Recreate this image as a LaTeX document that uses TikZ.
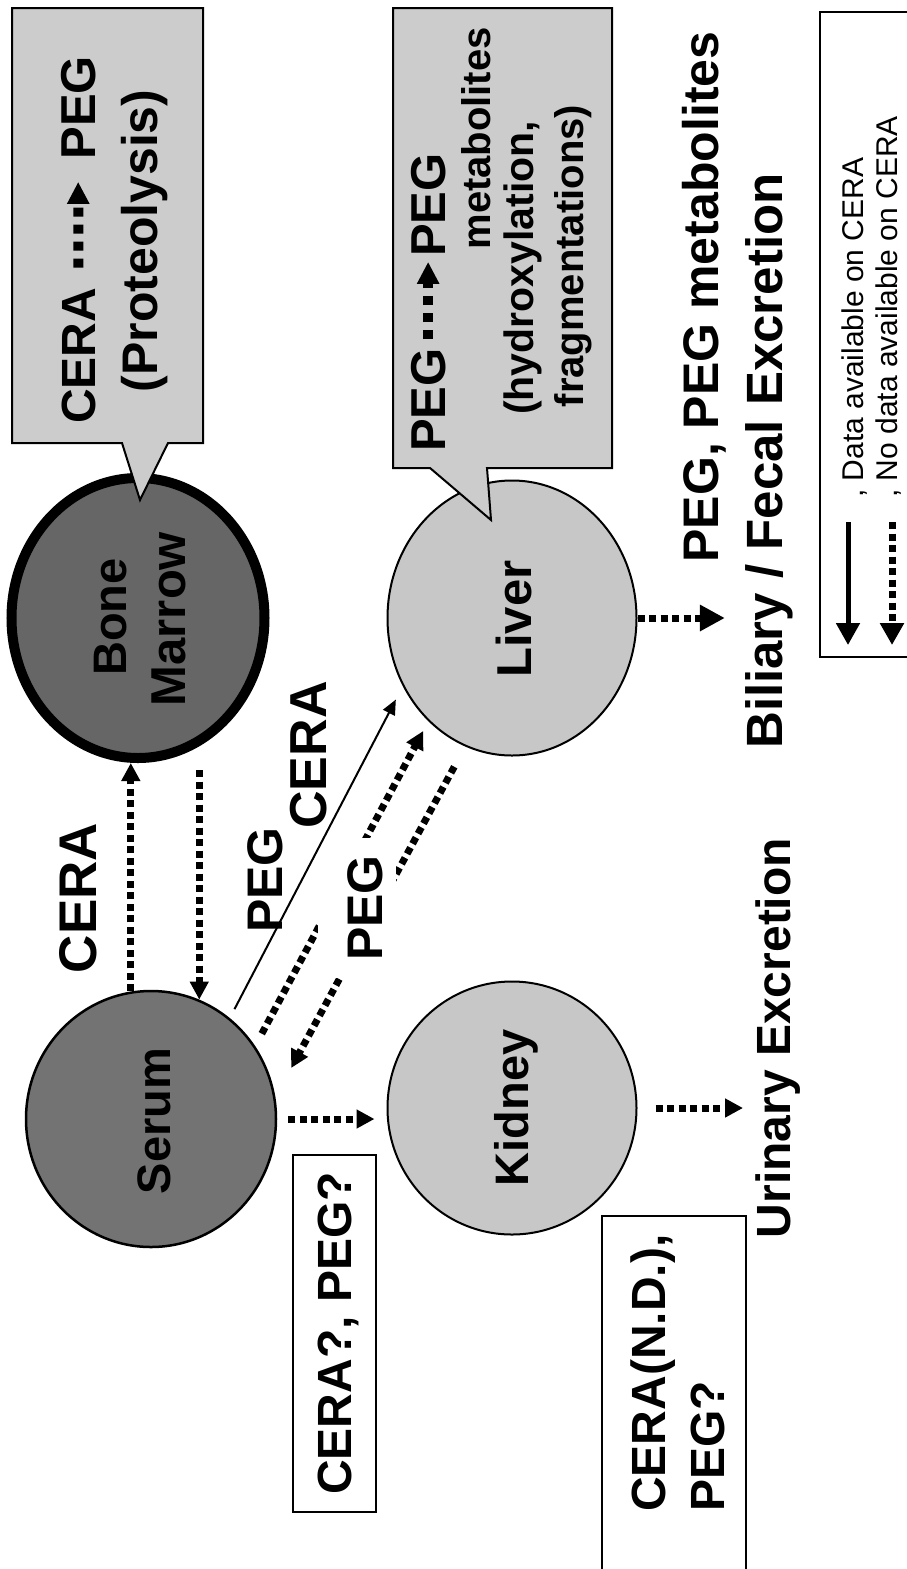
\documentclass[tikz,border=0pt]{standalone}
\usepackage{fontspec}
\setmainfont{Liberation Sans}
\usetikzlibrary{arrows.meta,shapes.geometric}
\newcommand{\fsz}[1]{\fontsize{#1}{#1}\selectfont}
\begin{document}
\begin{tikzpicture}[x=1pt,y=-1pt,
  lbl/.style={rotate=90, inner sep=0pt, font=\bfseries},
  organ/.style={ellipse, draw=black, inner sep=0pt},
  dotarr/.style={line width=7pt, dash pattern=on 7pt off 4.5pt, -{Triangle[length=18pt,width=18pt]}},
  calldot/.style={line width=10pt, dash pattern=on 9pt off 8pt, -{Triangle[length=22pt,width=21pt]}},
  thinarr/.style={line width=2pt, -{Triangle[length=15pt,width=13pt]}},
  callout/.style={draw=black, line width=2pt, fill=black!20},
  boxline/.style={draw=black, line width=2pt},
]
\useasboundingbox (0,0) rectangle (906,1569);
\fill[white] (0,0) rectangle (906,1569);

% organs
\node[organ, line width=2.5pt, fill=black!55, minimum width=250pt, minimum height=256pt] (serum) at (151,1119) {};
\node[organ, line width=10pt, fill=black!60, minimum width=253pt, minimum height=280pt] (bone) at (138,618) {};
\node[organ, line width=2pt, fill=black!22, minimum width=249pt, minimum height=253pt] (kidney) at (512,1108) {};
\node[organ, line width=2pt, fill=black!22, minimum width=249pt, minimum height=275pt] (liver) at (512,618) {};

% callouts
\draw[callout] (12,8) -- (203,8) -- (203,443) -- (168,443) -- (140,500) -- (122,443) -- (12,443) -- cycle;
\draw[callout] (393,8) -- (612,8) -- (612,468) -- (487,468) -- (491,520) -- (430,468) -- (393,468) -- cycle;

% organ texts
\node[lbl, anchor=base, font=\fsz{47}\bfseries] (serumT) at (170,1121) {Serum};
\node[lbl, anchor=base, font=\fsz{47}\bfseries] (boneT) at (126,617) {Bone};
\node[lbl, anchor=base, font=\fsz{49}\bfseries] (marrowT) at (185,619) {Marrow};
\node[lbl, anchor=base, font=\fsz{47}\bfseries] (kidneyT) at (528,1108) {Kidney};
\node[lbl, anchor=base, font=\fsz{49}\bfseries] (liverT) at (531,619) {Liver};

% callout 1 text
\node[lbl, anchor=base west, font=\fsz{48}\bfseries] (c1a) at (95,424) {CERA};
\node[lbl, anchor=base east, font=\fsz{49}\bfseries] (c1b) at (95,56) {PEG};
\draw[calldot, shorten <=20pt, shorten >=22pt] (c1a.east) -- (c1b.west);
\node[lbl, anchor=base, font=\fsz{50}\bfseries] (c1c) at (157,241) {(Proteolysis)};

% callout 2 text
\node[lbl, anchor=base west, font=\fsz{49}\bfseries] (c2a) at (445,452) {PEG};
\node[lbl, anchor=base east, font=\fsz{49}\bfseries] (c2b) at (445,153) {PEG};
\draw[calldot, shorten <=9pt, shorten >=5pt] (c2a.east) -- (c2b.west);
\node[lbl, anchor=base east, font=\fsz{40}\bfseries] (c2c) at (490,27) {metabolites};
\node[lbl, anchor=base, font=\fsz{41}\bfseries] (c2d) at (533,268) {(hydroxylation,};
\node[lbl, anchor=base, font=\fsz{40}\bfseries] (c2e) at (583,256) {fragmentations)};

% labels needed for connectors
\node[lbl, anchor=base, font=\fsz{48}\bfseries] (urin) at (790,1038) {Urinary Excretion};
\node[lbl, anchor=base, font=\fsz{51}\bfseries] (bil) at (782,461) {Biliary / Fecal Excretion};

% dotted connectors
\draw[dotarr] (serum.99) -- (serum.99 |- bone.south);
\draw[dotarr, shorten <=7pt] (serum.68 |- bone.south) -- (serum.68);
\draw[dotarr, shorten <=14pt, shorten >=11pt] (serum.35) -- (liver.231);
\draw[dotarr, shorten <=23pt, shorten >=33pt] (liver.250) -- (serum.10);
\draw[dotarr, shorten <=11pt, shorten >=12pt] (serum.east) -- (serum.east -| kidney.west);
\draw[dotarr, shorten <=18pt, shorten >=12pt] (kidney.east) -- (kidney.east -| urin.north);
\draw[dotarr, -{Triangle[length=25pt,width=25pt]}, shorten >=20pt] (liver.east) -- (liver.east -| bil.north);

% PEG label over dotted connectors
\node[lbl, anchor=base, font=\fsz{50}\bfseries, fill=white, text height=50pt, inner xsep=17pt, inner ysep=14pt] (peg2) at (382,908) {PEG};

% solid connector
\draw[thinarr, shorten <=10pt, shorten >=15pt] (serum.52) -- (liver.212);

% other labels
\node[lbl, anchor=base, font=\fsz{53}\bfseries] (ceraL) at (96,898) {CERA};
\node[lbl, anchor=base, font=\fsz{50}\bfseries] (peg1) at (282,880) {PEG};
\node[lbl, anchor=base, font=\fsz{52}\bfseries] (cera2) at (326,755) {CERA};
\node[lbl, anchor=base, font=\fsz{50}\bfseries] (pegm) at (718,297) {PEG, PEG metabolites};

% boxes
\node[lbl, draw=black, line width=2pt, text depth=0pt, font=\fsz{48}\bfseries, minimum width=357pt, minimum height=83pt] (q1) at (334.5,1333.5) {CERA?, PEG?};
\draw[boxline] (602,1572) -- (602,1216) -- (746,1216) -- (746,1572);
\node[lbl, anchor=base west, font=\fsz{48}\bfseries] (nd1) at (665,1512) {CERA(N.D.),};
\node[lbl, anchor=base west, font=\fsz{48}\bfseries] (nd2) at (724,1512) {PEG?};

% legend
\draw[boxline] (910,12) -- (820,12) -- (820,657) -- (910,657);
\coordinate (l1s) at (848,522);
\coordinate (l1e) at (848,645);
\coordinate (l2s) at (892,522);
\coordinate (l2e) at (892,645);
\draw[line width=5pt, -{Triangle[length=22pt,width=23pt]}] (l1s) -- (l1e);
\draw[line width=7pt, dash pattern=on 7pt off 4.5pt, -{Triangle[length=22pt,width=23pt]}] (l2s) -- (l2e);
\node[lbl, anchor=base west, font=\fsz{30}] (leg1) at (863,498) {, Data available on CERA};
\node[lbl, anchor=base west, font=\fsz{30}] (leg2) at (897,498) {, No data available on CERA};
\end{tikzpicture}
\end{document}
